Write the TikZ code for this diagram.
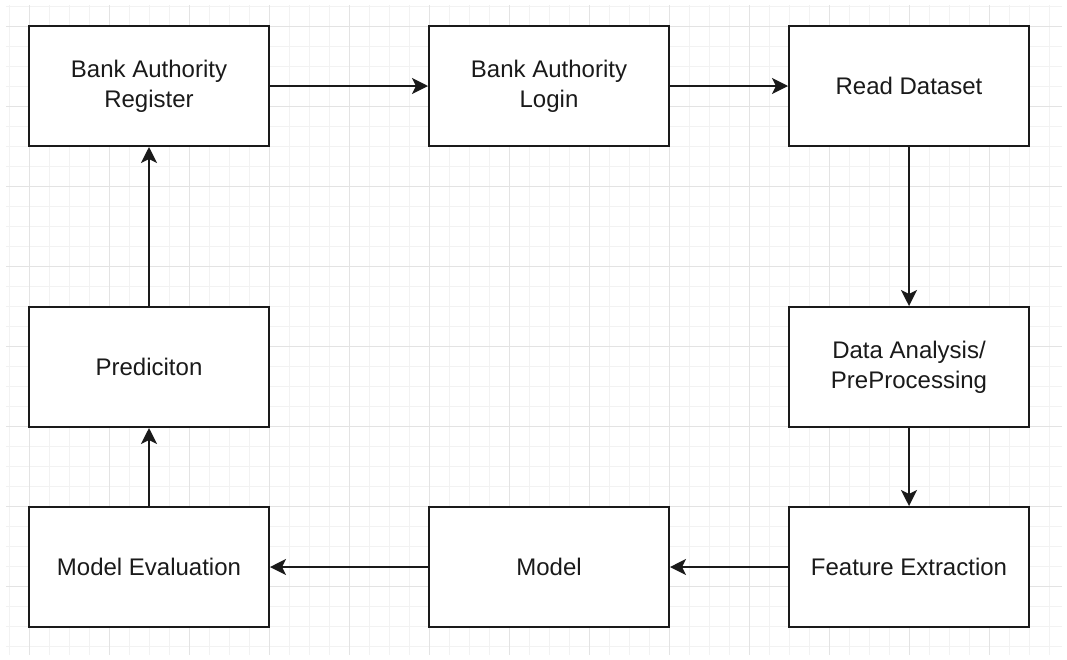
\documentclass[tikz,border=0pt]{standalone}
\usepackage{fontspec}
\setmainfont{Liberation Sans}
\usetikzlibrary{arrows.meta}
\definecolor{gridminor}{HTML}{F2F2F2}
\definecolor{gridmajor}{HTML}{E3E3E3}
\definecolor{inkcol}{HTML}{1A1A1A}
\tikzset{
  stepbox/.style={draw=inkcol, line width=2pt, fill=white, minimum width=240pt,
    minimum height=120pt, inner sep=0pt, align=center, text=inkcol,
    font=\fontsize{24}{30}\selectfont},
  flow/.style={draw=inkcol, line width=2pt,
    -{Stealth[length=16pt, width=16pt, inset=4pt]}},
}
\begin{document}
\begin{tikzpicture}[x=1pt, y=-1pt]
  \useasboundingbox (0,0) rectangle (1067,659);
  \fill[white] (0,0) rectangle (1067,659);
  % background grid: minor every 20, major every 80
  \foreach \gx in {9,29,...,1049} \draw[gridminor, line width=1pt] (\gx,5) -- (\gx,655);
  \foreach \gy in {6.7,26.7,...,646.7} \draw[gridminor, line width=1pt] (6,\gy) -- (1062,\gy);
  \foreach \gx in {29,109,...,1029} \draw[gridmajor, line width=1pt] (\gx,5) -- (\gx,655);
  \foreach \gy in {26.7,106.7,...,626.7} \draw[gridmajor, line width=1pt] (6,\gy) -- (1062,\gy);

  % process boxes
  \node[stepbox] (reg)   at (149,86)  {Bank Authority\\Register};
  \node[stepbox] (login) at (549,86)  {Bank Authority\\Login};
  \node[stepbox] (read)  at (909,86)  {Read Dataset};
  \node[stepbox] (pre)   at (909,367) {Data Analysis/\\PreProcessing};
  \node[stepbox] (feat)  at (909,567) {Feature Extraction};
  \node[stepbox] (model) at (549,567) {Model};
  \node[stepbox] (eval)  at (149,567) {Model Evaluation};
  \node[stepbox] (pred)  at (149,367) {Prediciton};

  % flow connectors
  \draw[flow] (reg) -- (login);
  \draw[flow] (login) -- (read);
  \draw[flow] (read) -- (pre);
  \draw[flow] (pre) -- (feat);
  \draw[flow] (feat) -- (model);
  \draw[flow] (model) -- (eval);
  \draw[flow] (eval) -- (pred);
  \draw[flow] (pred) -- (reg);
\end{tikzpicture}
\end{document}
